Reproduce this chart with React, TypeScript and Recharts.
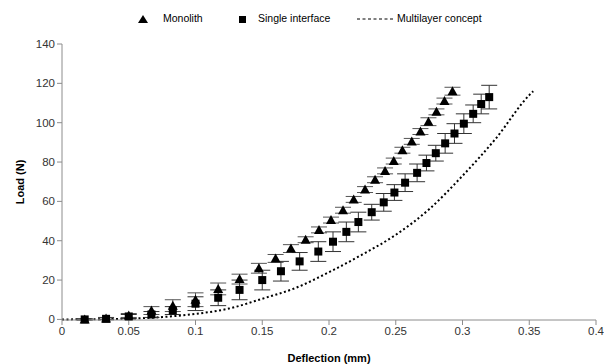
import React from 'react';
import {
  ComposedChart, Scatter, Line, XAxis, YAxis, ErrorBar,
} from 'recharts';

// Monolith (triangles)
const monoX = [0.017, 0.033, 0.05, 0.067, 0.083, 0.1, 0.117, 0.133, 0.1475, 0.16, 0.1715, 0.1825, 0.1925, 0.2015, 0.2105, 0.2185, 0.227, 0.2345, 0.242, 0.2485, 0.255, 0.262, 0.2685, 0.2745, 0.2805, 0.2865, 0.2925];
const monoY = [0, 0.5, 2, 4.5, 7, 10, 15.5, 20.5, 26, 31, 36, 40.5, 45.5, 50.5, 55.5, 61, 66, 71, 75.5, 80.5, 86, 90.5, 95.5, 100.5, 105.5, 111, 116];
const monoErr = [0.3, 0.5, 1, 2, 3, 3.5, 3, 2.5, 2.5, 2, 2, 1.5, 1.5, 1.5, 1.5, 1.5, 1.5, 1.5, 1.5, 1.5, 1.5, 1.5, 1.5, 2, 1.5, 1.5, 2];

// Single interface (squares)
const singleX = [0.017, 0.033, 0.05, 0.067, 0.083, 0.1, 0.117, 0.133, 0.15, 0.164, 0.178, 0.192, 0.203, 0.213, 0.222, 0.232, 0.241, 0.249, 0.257, 0.266, 0.273, 0.28, 0.287, 0.294, 0.301, 0.308, 0.314, 0.32];
const singleY = [0, 0.3, 1.5, 2.5, 4.5, 8, 11, 15, 20, 24.5, 29.5, 34.5, 39.5, 44.5, 49.5, 54.5, 59.5, 64.5, 69.5, 74.5, 79.5, 84.5, 89.5, 94.5, 99.5, 104.5, 109.5, 113];
const singleErr = [0.3, 0.5, 1, 1.5, 2, 3.5, 4, 5, 5, 5, 4.5, 5, 5, 5, 5, 4, 4.5, 4, 4.5, 4.5, 4, 4, 5, 5, 5, 4.5, 5, 6];

// Multilayer concept (dotted curve)
const multiX = [0, 0.025, 0.05, 0.075, 0.1, 0.125, 0.15, 0.175, 0.2, 0.225, 0.25, 0.275, 0.3, 0.325, 0.35, 0.353];
const multiY = [0, 0.1, 0.4, 1.2, 2.8, 5.5, 10.5, 16, 24, 33, 43, 56, 73, 92, 114, 116];

const xTicks = [0, 0.05, 0.1, 0.15, 0.2, 0.25, 0.3, 0.35, 0.4];
const yTicks = [0, 20, 40, 60, 80, 100, 120, 140];

const monoData = monoX.map((x, i) => ({ x, y: monoY[i], err: monoErr[i] }));
const singleData = singleX.map((x, i) => ({ x, y: singleY[i], err: singleErr[i] }));
const multiData = multiX.map((x, i) => ({ x, y: multiY[i] }));

const FONT = '"Liberation Sans", Arial, sans-serif';
const AXIS = '#8c8c8c';

function Triangle({ cx, cy }: { cx?: number; cy?: number }) {
  if (cx === undefined || cy === undefined) return null;
  return <polygon points={`${cx},${cy - 5} ${cx + 5},${cy + 4} ${cx - 5},${cy + 4}`} fill="#000" />;
}

function Square({ cx, cy }: { cx?: number; cy?: number }) {
  if (cx === undefined || cy === undefined) return null;
  return <rect x={cx - 4} y={cy - 4} width={8} height={8} fill="#000" />;
}

// legend drawn on top of the chart so it does not eat the plot area
function LegendBox() {
  return (
    <svg width={604} height={30} style={{ position: 'absolute', left: 0, top: 0 }}>
      <polygon points="143,15 148,23 138,23" fill="#000" />
      <text x={163} y={22} fontSize={10.5} fontFamily={FONT} fill="#000">Monolith</text>
      <rect x={239} y={16} width={7} height={7} fill="#000" />
      <text x={258} y={22} fontSize={10.5} fontFamily={FONT} fill="#000">Single interface</text>
      <line x1={357} y1={19} x2={394} y2={19} stroke="#000" strokeWidth={1} strokeDasharray="3 2.5" />
      <text x={397} y={22} fontSize={10.5} fontFamily={FONT} fill="#000">Multilayer concept</text>
    </svg>
  );
}

export default function App() {
  return (
    <div style={{ position: 'absolute', left: 0, top: 0, width: 604, height: 364, background: '#fff' }}>
      <ComposedChart width={604} height={364} margin={{ top: 44, right: 8, bottom: 0, left: 0 }}>
        <XAxis
          type="number"
          dataKey="x"
          domain={[0, 0.4]}
          ticks={xTicks}
          height={44}
          tickSize={5}
          stroke={AXIS}
          tick={{ fontSize: 11.5, fill: '#333', fontFamily: FONT }}
          tickFormatter={(v: number) => String(v)}
          label={{ value: 'Deflection (mm)', position: 'insideBottom', offset: 2, fontSize: 11, fontWeight: 700, fill: '#000', fontFamily: FONT }}
        />
        <YAxis
          type="number"
          dataKey="y"
          domain={[0, 140]}
          ticks={yTicks}
          width={62}
          tickSize={5}
          stroke={AXIS}
          tick={{ fontSize: 11.5, fill: '#333', fontFamily: FONT }}
          label={{ value: 'Load (N)', angle: -90, position: 'insideLeft', offset: 20, fontSize: 11, fontWeight: 700, fill: '#000', fontFamily: FONT, style: { textAnchor: 'middle' } }}
        />
        <Line
          data={multiData}
          dataKey="y"
          type="monotone"
          stroke="#000"
          strokeWidth={2}
          strokeDasharray="2 2.5"
          dot={false}
          activeDot={false}
          isAnimationActive={false}
        />
        <Scatter data={monoData} dataKey="y" shape={<Triangle />} isAnimationActive={false}>
          <ErrorBar dataKey="err" direction="y" width={8} stroke="#555" strokeWidth={1} />
        </Scatter>
        <Scatter data={singleData} dataKey="y" shape={<Square />} isAnimationActive={false}>
          <ErrorBar dataKey="err" direction="y" width={8} stroke="#333" strokeWidth={1} />
        </Scatter>
      </ComposedChart>
      <LegendBox />
    </div>
  );
}
